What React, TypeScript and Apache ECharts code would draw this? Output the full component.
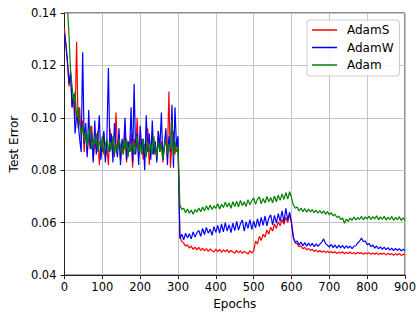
import React, { useEffect, useRef } from "react";
import * as echarts from "echarts";

// epochs: every 4 in [0,300], every 5 in (300,900]
const epochs: number[] = [];
for (let e = 0; e <= 300; e += 4) epochs.push(e);
for (let e = 305; e <= 900; e += 5) epochs.push(e);

const adamS: number[] = [
  // 0-300 (step 4)
  0.134, 0.127, 0.121, 0.112, 0.118, 0.104, 0.109, 0.100, 0.129, 0.096,
  0.104, 0.092, 0.099, 0.087, 0.096, 0.086, 0.093, 0.089, 0.097, 0.084,
  0.091, 0.088, 0.095, 0.082, 0.090, 0.087, 0.094, 0.085, 0.089, 0.082,
  0.096, 0.088, 0.091, 0.085, 0.102, 0.088, 0.093, 0.084, 0.090, 0.086,
  0.097, 0.083, 0.091, 0.088, 0.094, 0.081, 0.092, 0.087, 0.100, 0.085,
  0.089, 0.092, 0.084, 0.090, 0.087, 0.096, 0.082, 0.089, 0.093, 0.086,
  0.090, 0.084, 0.095, 0.087, 0.091, 0.083, 0.089, 0.092, 0.085, 0.110,
  0.081, 0.090, 0.095, 0.086, 0.091, 0.088,
  // 305-900 (step 5)
  0.0545, 0.0528, 0.0522, 0.0510, 0.0516, 0.0503, 0.0511, 0.0498, 0.0507, 0.0496,
  0.0506, 0.0494, 0.0503, 0.0492, 0.0501, 0.0490, 0.0500, 0.0493, 0.0488, 0.0499,
  0.0490, 0.0498, 0.0487, 0.0496, 0.0489, 0.0497, 0.0486, 0.0494, 0.0488, 0.0484,
  0.0494, 0.0485, 0.0492, 0.0483, 0.0490, 0.0486, 0.0480, 0.0493, 0.0484, 0.0492,
  0.0530, 0.0518, 0.0548, 0.0532, 0.0556, 0.0545, 0.0572, 0.0556, 0.0583, 0.0568,
  0.0595, 0.0578, 0.0604, 0.0588, 0.0612, 0.0594, 0.0620, 0.0601, 0.0632, 0.0598,
  0.0540, 0.0522, 0.0520, 0.0508, 0.0512, 0.0500, 0.0506, 0.0496, 0.0502, 0.0494,
  0.0499, 0.0490, 0.0496, 0.0488, 0.0494, 0.0487, 0.0492, 0.0486, 0.0491, 0.0485,
  0.0490, 0.0484, 0.0489, 0.0482, 0.0488, 0.0483, 0.0489, 0.0481, 0.0487, 0.0482,
  0.0488, 0.0481, 0.0486, 0.0480, 0.0487, 0.0482, 0.0486, 0.0479, 0.0485, 0.0481,
  0.0486, 0.0479, 0.0484, 0.0480, 0.0485, 0.0478, 0.0483, 0.0480, 0.0484, 0.0477,
  0.0483, 0.0478, 0.0482, 0.0476, 0.0481, 0.0477, 0.0483, 0.0475, 0.0480, 0.0477,
];

const adamW: number[] = [
  0.132, 0.128, 0.121, 0.113, 0.117, 0.104, 0.109, 0.094, 0.101, 0.098,
  0.092, 0.087, 0.125, 0.090, 0.098, 0.085, 0.103, 0.088, 0.094, 0.083,
  0.099, 0.086, 0.092, 0.101, 0.084, 0.090, 0.095, 0.083, 0.092, 0.119,
  0.087, 0.094, 0.083, 0.098, 0.089, 0.085, 0.096, 0.082, 0.092, 0.088,
  0.100, 0.084, 0.091, 0.087, 0.104, 0.083, 0.113, 0.086, 0.094, 0.082,
  0.097, 0.088, 0.092, 0.080, 0.101, 0.087, 0.094, 0.084, 0.099, 0.086,
  0.091, 0.083, 0.095, 0.088, 0.102, 0.084, 0.090, 0.096, 0.082, 0.093,
  0.087, 0.105, 0.081, 0.104, 0.089, 0.093,
  0.0540, 0.0556, 0.0535, 0.0560, 0.0542, 0.0558, 0.0538, 0.0565, 0.0545, 0.0562,
  0.0570, 0.0548, 0.0578, 0.0555, 0.0582, 0.0560, 0.0575, 0.0552, 0.0585, 0.0563,
  0.0590, 0.0560, 0.0595, 0.0565, 0.0600, 0.0568, 0.0592, 0.0562, 0.0598, 0.0570,
  0.0605, 0.0572, 0.0596, 0.0610, 0.0568, 0.0603, 0.0578, 0.0612, 0.0574, 0.0606,
  0.0580, 0.0615, 0.0585, 0.0620, 0.0590, 0.0625, 0.0588, 0.0618, 0.0630, 0.0592,
  0.0628, 0.0598, 0.0635, 0.0605, 0.0645, 0.0602, 0.0655, 0.0610, 0.0640, 0.0600,
  0.0545, 0.0525, 0.0530, 0.0515, 0.0526, 0.0512, 0.0524, 0.0510, 0.0522, 0.0511,
  0.0521, 0.0508, 0.0519, 0.0510, 0.0518, 0.0526, 0.0538, 0.0520, 0.0514, 0.0507,
  0.0517, 0.0505, 0.0515, 0.0503, 0.0514, 0.0504, 0.0513, 0.0502, 0.0512, 0.0503,
  0.0511, 0.0501, 0.0510, 0.0512, 0.0522, 0.0530, 0.0541, 0.0528, 0.0530, 0.0516,
  0.0521, 0.0508, 0.0515, 0.0503, 0.0511, 0.0500, 0.0508, 0.0498, 0.0507, 0.0497,
  0.0505, 0.0495, 0.0503, 0.0493, 0.0502, 0.0494, 0.0501, 0.0492, 0.0499, 0.0494,
];

const adam: number[] = [
  0.150, 0.148, 0.142, 0.131, 0.118, 0.112, 0.106, 0.110, 0.100, 0.104,
  0.098, 0.094, 0.097, 0.091, 0.095, 0.089, 0.093, 0.097, 0.088, 0.092,
  0.090, 0.094, 0.087, 0.091, 0.089, 0.093, 0.086, 0.090, 0.092, 0.087,
  0.091, 0.088, 0.093, 0.086, 0.090, 0.087, 0.092, 0.089, 0.086, 0.091,
  0.088, 0.092, 0.085, 0.090, 0.087, 0.091, 0.086, 0.089, 0.093, 0.087,
  0.090, 0.086, 0.092, 0.088, 0.085, 0.091, 0.087, 0.090, 0.086, 0.093,
  0.088, 0.085, 0.091, 0.087, 0.090, 0.084, 0.089, 0.092, 0.086, 0.090,
  0.088, 0.099, 0.085, 0.091, 0.087, 0.089,
  0.0668, 0.0650, 0.0655, 0.0638, 0.0652, 0.0636, 0.0648, 0.0632, 0.0650, 0.0640,
  0.0656, 0.0642, 0.0660, 0.0645, 0.0665, 0.0648, 0.0668, 0.0650, 0.0664, 0.0655,
  0.0672, 0.0652, 0.0670, 0.0658, 0.0678, 0.0660, 0.0675, 0.0655, 0.0680, 0.0662,
  0.0682, 0.0660, 0.0685, 0.0665, 0.0680, 0.0662, 0.0688, 0.0668, 0.0684, 0.0695,
  0.0670, 0.0690, 0.0698, 0.0672, 0.0692, 0.0675, 0.0700, 0.0680, 0.0696, 0.0676,
  0.0702, 0.0680, 0.0705, 0.0685, 0.0710, 0.0688, 0.0715, 0.0690, 0.0718, 0.0695,
  0.0668, 0.0655, 0.0660, 0.0645, 0.0656, 0.0642, 0.0654, 0.0640, 0.0652, 0.0641,
  0.0650, 0.0638, 0.0648, 0.0636, 0.0646, 0.0635, 0.0645, 0.0632, 0.0642, 0.0630,
  0.0638, 0.0626, 0.0632, 0.0620, 0.0625, 0.0612, 0.0618, 0.0598, 0.0614, 0.0605,
  0.0618, 0.0608, 0.0622, 0.0610, 0.0620, 0.0612, 0.0624, 0.0611, 0.0622, 0.0614,
  0.0625, 0.0612, 0.0623, 0.0614, 0.0626, 0.0611, 0.0622, 0.0613, 0.0624, 0.0610,
  0.0621, 0.0612, 0.0624, 0.0609, 0.0620, 0.0611, 0.0623, 0.0608, 0.0618, 0.0610,
];

const seriesNames = ["AdamS", "AdamW", "Adam"];
const seriesColors = ["#ff0000", "#0000ff", "#008000"];
const seriesValues = [adamS, adamW, adam];

const FONT = "DejaVu Sans";

export default function App() {
  const ref = useRef<HTMLDivElement>(null);
  useEffect(() => {
    if (!ref.current) return;
    const chart = echarts.init(ref.current, null, { renderer: "svg" });
    chart.setOption({
      animation: false,
      backgroundColor: "#ffffff",
      grid: {
        left: 64,
        right: 14,
        top: 13,
        bottom: 36,
        show: true,
        borderColor: "#222",
        borderWidth: 1,
        backgroundColor: "transparent",
      },
      legend: {
        orient: "vertical",
        left: 307,
        top: 20,
        padding: [3, 6, 4, 5],
        itemGap: 3.5,
        itemWidth: 25,
        itemHeight: 1.5,
        icon: "rect",
        backgroundColor: "rgba(255,255,255,0.85)",
        borderColor: "#cccccc",
        borderWidth: 1,
        borderRadius: 3,
        textStyle: {
          fontFamily: FONT,
          fontSize: 12,
          color: "#000",
          lineHeight: 14,
          padding: [0, 0, 0, 5],
        },
        data: seriesNames,
      },
      xAxis: {
        type: "value",
        min: 0,
        max: 900,
        interval: 100,
        name: "Epochs",
        nameLocation: "middle",
        nameGap: 22,
        nameTextStyle: { fontFamily: FONT, fontSize: 12, color: "#000" },
        axisLine: { lineStyle: { color: "#222", width: 1 } },
        axisTick: { show: true, inside: false, length: 4, lineStyle: { color: "#222" } },
        axisLabel: { fontFamily: FONT, fontSize: 11.5, color: "#000", margin: 6 },
        splitLine: { show: true, lineStyle: { color: "#c4c4c4", width: 1 } },
      },
      yAxis: {
        type: "value",
        min: 0.04,
        max: 0.14,
        interval: 0.02,
        name: "Test Error",
        nameLocation: "middle",
        nameGap: 38,
        nameTextStyle: { fontFamily: FONT, fontSize: 12, color: "#000" },
        axisLine: { show: true, lineStyle: { color: "#222", width: 1 } },
        axisTick: { show: true, inside: false, length: 4, lineStyle: { color: "#222" } },
        axisLabel: {
          fontFamily: FONT,
          fontSize: 11.5,
          color: "#000",
          margin: 8,
          formatter: (v: number) => v.toFixed(2),
        },
        splitLine: { show: true, lineStyle: { color: "#c4c4c4", width: 1 } },
      },
      series: seriesNames.map((name, k) => ({
        name,
        type: "line",
        showSymbol: false,
        symbol: "none",
        clip: true,
        color: seriesColors[k],
        lineStyle: { color: seriesColors[k], width: 1.2 },
        emphasis: { disabled: true },
        data: epochs.map((e, i) => [e, seriesValues[k][i]]),
      })),
    });
    return () => chart.dispose();
  }, []);
  return (
    <div
      ref={ref}
      style={{ position: "fixed", left: 0, top: 0, width: 419, height: 315 }}
    />
  );
}
